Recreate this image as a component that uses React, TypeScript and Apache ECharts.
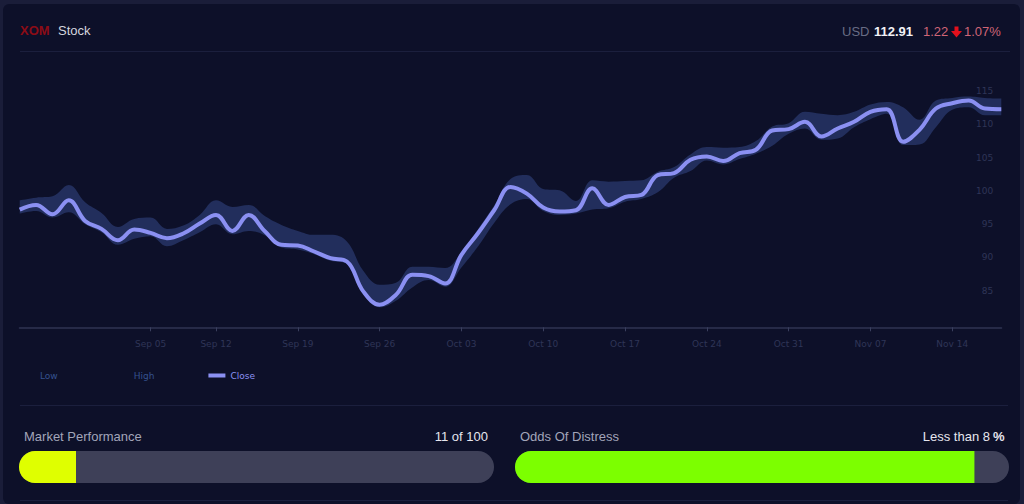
import React, { useEffect, useRef } from "react";
import * as echarts from "echarts";

// ---- data ----
const dates = [
  "2022-08-24", "2022-08-25", "2022-08-26", "2022-08-29", "2022-08-30", "2022-08-31",
  "2022-09-01", "2022-09-02", "2022-09-06", "2022-09-07", "2022-09-08", "2022-09-09",
  "2022-09-12", "2022-09-13", "2022-09-14", "2022-09-15", "2022-09-16",
  "2022-09-19", "2022-09-20", "2022-09-21", "2022-09-22", "2022-09-23",
  "2022-09-26", "2022-09-27", "2022-09-28", "2022-09-29", "2022-09-30",
  "2022-10-03", "2022-10-04", "2022-10-05", "2022-10-06", "2022-10-07",
  "2022-10-10", "2022-10-11", "2022-10-12", "2022-10-13", "2022-10-14",
  "2022-10-17", "2022-10-18", "2022-10-19", "2022-10-20", "2022-10-21",
  "2022-10-24", "2022-10-25", "2022-10-26", "2022-10-27", "2022-10-28",
  "2022-10-31", "2022-11-01", "2022-11-02", "2022-11-03", "2022-11-04",
  "2022-11-07", "2022-11-08", "2022-11-09", "2022-11-10", "2022-11-11",
  "2022-11-14", "2022-11-15", "2022-11-16", "2022-11-17",
];

const closeValues = [
  97.2, 97.9, 96.5, 98.6, 95.5, 94.3, 92.6, 94.2, 93.7, 92.9, 93.6, 95.1,
  96.4, 94.0, 96.4, 93.9, 91.9, 91.8, 90.9, 89.9, 89.4, 84.9, 82.9, 84.4,
  87.4, 87.2, 86.1, 90.4, 93.6, 97.1, 100.6, 99.6, 97.5, 96.9, 97.1, 100.4,
  97.9, 99.1, 99.4, 102.4, 102.7, 104.7, 105.2, 104.5, 105.7, 106.2, 109.1,
  109.3, 110.4, 108.2, 109.4, 110.4, 111.9, 112.3, 107.4, 109.2, 112.4,
  113.2, 113.6, 112.4, 112.3,
];

const lowValues = [
  96.6, 97.0, 96.0, 96.8, 95.0, 93.8, 91.9, 92.8, 93.2, 91.7, 92.6, 93.8,
  95.0, 93.5, 94.0, 93.3, 91.5, 91.2, 90.5, 89.5, 89.0, 84.5, 82.5, 83.5,
  85.5, 86.6, 85.6, 88.5, 91.6, 95.2, 98.0, 98.8, 97.0, 96.4, 96.6, 97.2,
  97.4, 98.4, 98.8, 99.8, 102.0, 103.0, 104.6, 104.0, 104.8, 105.6, 106.8,
  108.6, 109.4, 107.7, 107.9, 109.6, 110.8, 111.6, 106.9, 107.0, 109.6,
  112.2, 112.6, 111.4, 111.4,
];

const highValues = [
  98.6, 99.0, 99.2, 100.9, 98.3, 96.7, 94.6, 95.8, 96.0, 94.3, 94.8, 96.4,
  98.6, 97.6, 97.9, 96.2, 94.9, 94.0, 93.4, 93.4, 92.4, 88.0, 85.9, 86.2,
  88.6, 88.6, 88.4, 90.8, 94.2, 97.8, 101.8, 102.4, 100.3, 100.1, 98.5, 101.6,
  101.4, 101.5, 101.6, 102.9, 103.6, 105.5, 106.6, 106.5, 106.6, 107.5, 109.7,
  110.2, 111.9, 111.6, 111.4, 111.9, 113.0, 113.4, 112.6, 110.7, 113.6,
  114.0, 114.2, 114.0, 113.9,
];

const tickDates = [
  "2022-09-06", "2022-09-12", "2022-09-19", "2022-09-26", "2022-10-03", "2022-10-10",
  "2022-10-17", "2022-10-24", "2022-10-31", "2022-11-07", "2022-11-14",
];
const tickLabels = [
  "Sep 05", "Sep 12", "Sep 19", "Sep 26", "Oct 03", "Oct 10",
  "Oct 17", "Oct 24", "Oct 31", "Nov 07", "Nov 14",
];
const yLabelMin = 85;
const yLabelMax = 115;

const ticker = "XOM";
const tickerSuffix = "Stock";
const currency = "USD";
const lastPrice = "112.91";
const priceChange = "1.22";
const priceChangePct = "1.07%";

const perfTitle = "Market Performance";
const perfText = "11 of 100";
const perfFill = [12];
const distressTitle = "Odds Of Distress";
const distressText = "Less than 8";
const distressFill = [93];

// ---- component ----
const FONT = '"Liberation Sans", Arial, sans-serif';
const AXFONT = '"DejaVu Sans", Verdana, sans-serif';

export default function App() {
  const ref = useRef<HTMLDivElement>(null);

  useEffect(() => {
    if (!ref.current) return;
    const chart = echarts.init(ref.current, null, { renderer: "svg" });
    const labelMap: Record<string, string> = {};
    tickDates.forEach((d, i) => (labelMap[d] = tickLabels[i]));
    const isTick = (_i: number, v: string) => labelMap[v] !== undefined;
    const bandDiff = highValues.map((h, i) => +(h - lowValues[i]).toFixed(2));

    const axisTextColor = "#2f3557";

    chart.setOption({
      animation: false,
      backgroundColor: "transparent",
      textStyle: { fontFamily: FONT },
      legend: {
        left: 13,
        top: 366,
        itemWidth: 17,
        itemHeight: 4,
        itemGap: 54,
        icon: "rect",
        selectedMode: false,
        textStyle: { fontFamily: AXFONT, fontSize: 9, color: "#35528f" },
        data: [
          { name: "Low", itemStyle: { opacity: 0 }, lineStyle: { opacity: 0 } },
          { name: "High", itemStyle: { opacity: 0 }, lineStyle: { opacity: 0 } },
          { name: "Close", textStyle: { color: "#8b90f2" } },
        ],
      },
      grid: [
        { left: 19.7, right: 22.7, top: 58, bottom: 176.7 },
        { left: 19, top: 451, width: 475, height: 32 },
        { left: 515, top: 451, width: 494, height: 32 },
      ],
      xAxis: [
        {
          type: "category",
          gridIndex: 0,
          data: dates,
          boundaryGap: false,
          axisLine: { lineStyle: { color: "#262a47", width: 2 } },
          axisTick: { show: true, interval: isTick, length: 4, lineStyle: { color: "#3a3f5e" } },
          axisLabel: {
            interval: isTick,
            formatter: (v: string) => labelMap[v] ?? "",
            color: axisTextColor,
            fontFamily: AXFONT,
            fontSize: 9,
            margin: 12,
          },
          splitLine: { show: false },
        },
        { type: "value", gridIndex: 1, min: 0, max: 100, show: false },
        { type: "value", gridIndex: 2, min: 0, max: 100, show: false },
      ],
      yAxis: [
        {
          type: "value",
          gridIndex: 0,
          position: "right",
          min: 79.5,
          max: 120,
          splitNumber: 8,
          axisLine: { show: false },
          axisTick: { show: false },
          splitLine: { show: false },
          axisLabel: {
            inside: true,
            margin: 8,
            color: axisTextColor,
            fontFamily: AXFONT,
            fontSize: 9,
            formatter: (v: number) =>
              v >= yLabelMin && v <= yLabelMax && v % 5 === 0 ? String(v) : "",
          },
        },
        { type: "category", gridIndex: 1, data: [perfTitle], show: false },
        { type: "category", gridIndex: 2, data: [distressTitle], show: false },
      ],
      series: [
        {
          name: "Low",
          type: "line",
          data: lowValues,
          stack: "band",
          smooth: 0.4,
          symbol: "none",
          lineStyle: { opacity: 0 },
          itemStyle: { color: "#35528f" },
          z: 1,
        },
        {
          name: "High",
          type: "line",
          data: bandDiff,
          stack: "band",
          smooth: 0.4,
          symbol: "none",
          lineStyle: { opacity: 0 },
          itemStyle: { color: "#35528f" },
          areaStyle: { color: "#222e5c", opacity: 1 },
          z: 1,
        },
        {
          name: "Close",
          type: "line",
          data: closeValues,
          smooth: 0.4,
          symbol: "none",
          itemStyle: { color: "#8b90f2" },
          lineStyle: { color: "#8b90f2", width: 4 },
          z: 3,
        },
        {
          type: "bar",
          xAxisIndex: 1,
          yAxisIndex: 1,
          data: perfFill,
          barWidth: 32,
          showBackground: true,
          backgroundStyle: { color: "#3e4058", borderRadius: 16 },
          itemStyle: { color: "#dfff00", borderRadius: [16, 0, 0, 16] },
        },
        {
          type: "bar",
          xAxisIndex: 2,
          yAxisIndex: 2,
          data: distressFill,
          barWidth: 32,
          showBackground: true,
          backgroundStyle: { color: "#3e4058", borderRadius: 16 },
          itemStyle: { color: "#7cff00", borderRadius: [16, 0, 0, 16] },
        },
      ],
      graphic: [
        { type: "line", shape: { x1: 20, y1: 51.5, x2: 1010, y2: 51.5 }, style: { stroke: "#1b1f3d", lineWidth: 1 } },
        { type: "line", shape: { x1: 20, y1: 405.5, x2: 1008, y2: 405.5 }, style: { stroke: "#1b1f3d", lineWidth: 1 } },
        { type: "line", shape: { x1: 20, y1: 500.5, x2: 1008, y2: 500.5 }, style: { stroke: "#1b1f3d", lineWidth: 1 } },
        {
          type: "text", x: 20, y: 30,
          style: { text: ticker, fill: "#8c0c16", font: `bold 13px ${FONT}`, align: "left", verticalAlign: "middle" },
        },
        {
          type: "text", x: 58, y: 30,
          style: { text: tickerSuffix, fill: "#d4d5de", font: `13px ${FONT}`, align: "left", verticalAlign: "middle" },
        },
        {
          type: "text", x: 842, y: 31,
          style: { text: currency, fill: "#686c84", font: `13px ${FONT}`, align: "left", verticalAlign: "middle" },
        },
        {
          type: "text", x: 874, y: 31,
          style: { text: lastPrice, fill: "#f2f2f6", font: `bold 13px ${FONT}`, align: "left", verticalAlign: "middle" },
        },
        {
          type: "text", x: 923, y: 31,
          style: { text: priceChange, fill: "#cf6577", font: `13px ${FONT}`, align: "left", verticalAlign: "middle" },
        },
        {
          type: "polygon",
          shape: {
            points: [
              [954.5, 26.5], [958.5, 26.5], [958.5, 31], [962, 31],
              [956.5, 37.5], [951, 31], [954.5, 31],
            ],
          },
          style: { fill: "#e3101c" },
        },
        {
          type: "text", x: 964, y: 31,
          style: { text: priceChangePct, fill: "#cf6577", font: `13px ${FONT}`, align: "left", verticalAlign: "middle" },
        },
        {
          type: "text", x: 24, y: 436,
          style: { text: perfTitle, fill: "#a2a5b9", font: `13px ${FONT}`, align: "left", verticalAlign: "middle" },
        },
        {
          type: "text", x: 488, y: 436,
          style: { text: perfText, fill: "#e6e6ee", font: `13px ${FONT}`, align: "right", verticalAlign: "middle" },
        },
        {
          type: "text", x: 520, y: 436,
          style: { text: distressTitle, fill: "#a2a5b9", font: `13px ${FONT}`, align: "left", verticalAlign: "middle" },
        },
        {
          type: "text", x: 990, y: 436,
          style: { text: distressText, fill: "#e6e6ee", font: `13px ${FONT}`, align: "right", verticalAlign: "middle" },
        },
        {
          type: "text", x: 993, y: 436,
          style: { text: "%", fill: "#e6e6ee", font: `bold 13px ${FONT}`, align: "left", verticalAlign: "middle" },
        },
      ],
    });

    return () => chart.dispose();
  }, []);

  return (
    <div style={{ position: "fixed", left: 0, top: 0, width: 1024, height: 504, background: "#1a1d39", overflow: "hidden" }}>
      <div
        style={{
          position: "absolute", left: 3, top: 4, width: 1017, height: 500,
          background: "#0d1029", borderRadius: 6,
        }}
      />
      <div ref={ref} style={{ position: "absolute", left: 0, top: 0, width: 1024, height: 504 }} />
    </div>
  );
}
